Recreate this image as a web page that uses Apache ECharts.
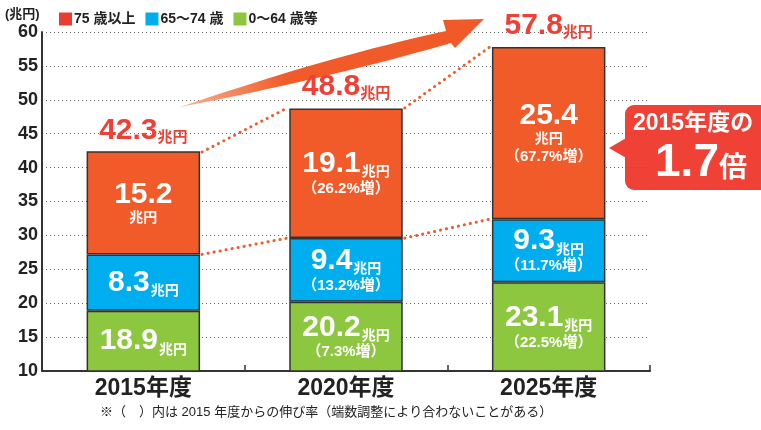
<!DOCTYPE html>
<html><head><meta charset="utf-8">
<script src="https://cdn.jsdelivr.net/npm/echarts@6/dist/echarts.min.js"></script>
<style>html,body{margin:0;padding:0;background:#fff}#c{width:761px;height:430px}</style>
</head><body><div id="c"></div>
<script>
// ---- data ----
const categories = ['2015年度', '2020年度', '2025年度'];
const seriesNames = ['75 歳以上', '65～74 歳', '0～64 歳等'];
const age75 = [15.2, 19.1, 25.4];
const age65 = [8.3, 9.4, 9.3];
const age0 = [18.9, 20.2, 23.1];
const totals = [42.3, 48.8, 57.8];
const pct75 = [null, 26.2, 67.7];
const pct65 = [null, 13.2, 11.7];
const pct0 = [null, 7.3, 22.5];
const yMin = 10, yMax = 60, yStep = 5;
const unitLabel = '兆円';
const yAxisUnit = '(兆円)';
const calloutLine1 = '2015年度の';
const calloutValue = '1.7';
const calloutUnit = '倍';
const footnote = '※（　）内は 2015 年度からの伸び率（端数調整により合わないことがある）';

// ---- style ----
const FONT = '"Liberation Sans","Noto Sans CJK JP",sans-serif';
const C_RED = '#F15A29', C_BLUE = '#00AEEF', C_GREEN = '#8DC63F';
const C_LEG_RED = '#EC3B30', C_TXT_RED = '#EE4035', C_CALL = '#EF4136';
const BAR_W = 0.56;

function fmt(vals, pcts, unitBreak) {
  return p => {
    const i = p.dataIndex;
    let s = '{n|' + vals[i].toFixed(1) + '}' + (unitBreak[i] ? '\n{u2|' + unitLabel + '}' : '{u|' + unitLabel + '}');
    if (pcts[i] != null) s += '\n{p|（' + pcts[i] + '%増）}';
    return s;
  };
}
const richIn = {
  n: {fontSize: 30, fontWeight: 'bold', color: '#fff', fontFamily: FONT, lineHeight: 31},
  u: {fontSize: 14, fontWeight: 'bold', color: '#fff', fontFamily: FONT, lineHeight: 31, verticalAlign: 'bottom', padding: [0, 0, 0, 1]},
  u2: {fontSize: 14, fontWeight: 'bold', color: '#fff', fontFamily: FONT, lineHeight: 16},
  p: {fontSize: 15, fontWeight: 'bold', color: '#fff', fontFamily: FONT, lineHeight: 19}
};

const lvl1 = age0.map((v, i) => +(v + age65[i]).toFixed(1));
const connectors = [];
for (let i = 0; i < categories.length - 1; i++) {
  connectors.push([i, totals[i], i + 1, totals[i + 1]]);
  connectors.push([i, lvl1[i], i + 1, lvl1[i + 1]]);
}

const chart = echarts.init(document.getElementById('c'));

// arrow decoration
function arrowPoints() {
  const pts = [];
  const q = (a, c, b, t) => (1 - t) * (1 - t) * a + 2 * (1 - t) * t * c + t * t * b;
  for (let k = 0; k <= 20; k++) { const t = k / 20; pts.push([q(180, 330, 446, t), q(107, 56, 31, t)]); }
  pts.push([443, 20], [484, 19], [455, 48], [451, 43]);
  for (let k = 1; k <= 20; k++) { const t = k / 20; pts.push([q(451, 330, 180, t), q(43, 78, 107, t)]); }
  return pts;
}

const option = {
  animation: false,
  backgroundColor: '#fff',
  textStyle: {fontFamily: FONT},
  legend: {
    left: 54, top: 7, itemWidth: 13, itemHeight: 13, itemGap: 10, icon: 'rect',
    textStyle: {fontSize: 14, fontWeight: 'bold', color: '#222', fontFamily: FONT, padding: [0, 0, 0, -3]},
    data: [
      {name: seriesNames[0], itemStyle: {color: C_LEG_RED, borderWidth: 0}},
      {name: seriesNames[1], itemStyle: {color: C_BLUE, borderWidth: 0}},
      {name: seriesNames[2], itemStyle: {color: C_GREEN, borderWidth: 0}}
    ]
  },
  grid: {left: 42, right: 111, top: 32, bottom: 59, containLabel: false},
  xAxis: {
    type: 'category', data: categories,
    axisLine: {lineStyle: {color: '#333', width: 2}},
    axisTick: {show: true, inside: true, length: 6, lineStyle: {color: '#333', width: 1.5}},
    axisLabel: {fontSize: 23, fontWeight: 'bold', color: '#222', margin: 6, fontFamily: FONT}
  },
  yAxis: {
    type: 'value', min: yMin, max: yMax, interval: yStep,
    axisLine: {show: true, lineStyle: {color: '#333', width: 2}},
    axisTick: {show: false},
    axisLabel: {fontSize: 18, fontWeight: 'bold', color: '#222', margin: 4, fontFamily: FONT},
    splitLine: {lineStyle: {color: '#666', width: 1, type: [1, 3]}}
  },
  series: [
    {
      name: seriesNames[2], type: 'bar', stack: 't', data: age0, barWidth: (BAR_W * 100) + '%',
      itemStyle: {color: C_GREEN, borderColor: '#333', borderWidth: 1.5},
      label: {show: true, position: 'inside', formatter: fmt(age0, pct0, [false, false, false]), rich: richIn}
    },
    {
      name: seriesNames[1], type: 'bar', stack: 't', data: age65,
      itemStyle: {color: C_BLUE, borderColor: '#333', borderWidth: 1.5},
      label: {show: true, position: 'inside', formatter: fmt(age65, pct65, [false, false, false]), rich: richIn}
    },
    {
      name: seriesNames[0], type: 'bar', stack: 't', data: age75,
      itemStyle: {color: C_RED, borderColor: '#333', borderWidth: 1.5},
      label: {show: true, position: 'inside', formatter: fmt(age75, pct75, [true, false, true]), rich: richIn}
    },
    {
      name: 'total', type: 'custom', data: totals.map((v, i) => [i, v]), encode: {x: 0, y: 1}, z: 6, clip: false,
      renderItem: (params, api) => {
        const p = api.coord([api.value(0), api.value(1)]);
        return {
          type: 'text', x: p[0], y: p[1] - 6,
          style: {
            text: '{t|' + api.value(1).toFixed(1) + '}{tu|' + unitLabel + '}',
            align: 'center', verticalAlign: 'bottom',
            rich: {
              t: {font: 'bold 30px ' + FONT, fill: C_TXT_RED, lineHeight: 30, verticalAlign: 'bottom'},
              tu: {font: 'bold 15px ' + FONT, fill: C_TXT_RED, lineHeight: 30, verticalAlign: 'bottom', padding: [0, 0, 1, 0]}
            }
          }
        };
      }
    },
    {
      name: 'conn', type: 'custom', data: connectors, encode: {x: [0, 2], y: [1, 3]}, z: 1, clip: false,
      renderItem: (params, api) => {
        const a = api.coord([api.value(0), api.value(1)]);
        const b = api.coord([api.value(2), api.value(3)]);
        const half = api.size([1, 0])[0] * BAR_W / 2;
        return {
          type: 'line',
          shape: {x1: a[0] + half + 2, y1: a[1], x2: b[0] - half - 2, y2: b[1]},
          style: {stroke: C_RED, lineWidth: 3, lineDash: [0.1, 6], lineCap: 'round', fill: null}
        };
      }
    }
  ],
  graphic: [
    {type: 'text', left: 5, top: 8, style: {text: yAxisUnit, font: 'bold 13px ' + FONT, fill: '#222'}},
    {
      type: 'polygon', z: 5, shape: {points: arrowPoints()},
      style: {fill: new echarts.graphic.LinearGradient(0, 0, 1, 0, [{offset: 0, color: '#F8B497'}, {offset: 0.35, color: '#F15A29'}, {offset: 1, color: '#F05A28'}])}
    },
    {
      type: 'group', z: 10, children: [
        {type: 'polygon', shape: {points: [[628, 137], [609, 148], [628, 159]]}, style: {fill: C_CALL}},
        {type: 'rect', shape: {x: 625, y: 105, width: 150, height: 85, r: 9}, style: {fill: C_CALL}},
        {type: 'text', x: 633, y: 112, style: {text: calloutLine1, font: 'bold 23px ' + FONT, fill: '#fff'}},
        {type: 'text', x: 701, y: 163, style: {
          text: '{a|' + calloutValue + '}{b|' + calloutUnit + '}', align: 'center', verticalAlign: 'middle',
          rich: {a: {font: 'bold 46px ' + FONT, fill: '#fff', color: '#fff', verticalAlign: 'bottom', lineHeight: 46},
                 b: {font: 'bold 28px ' + FONT, fill: '#fff', color: '#fff', verticalAlign: 'bottom', lineHeight: 46, padding: [0, 0, 3, 0]}}
        }}
      ]
    },
    {type: 'text', left: 100, top: 406, style: {text: footnote, font: '13px ' + FONT, fill: '#222'}}
  ]
};
chart.setOption(option);
</script></body></html>
